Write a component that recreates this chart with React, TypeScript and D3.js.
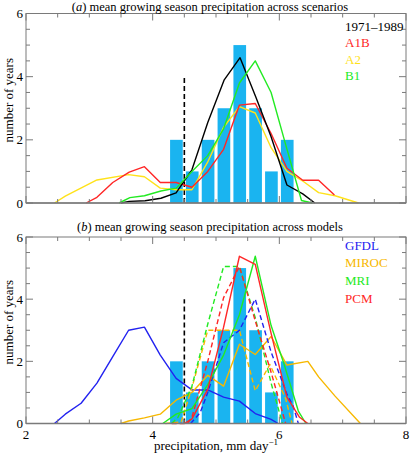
import React from "react";
import * as d3 from "d3";

// ---------- data ----------
const binCenters = [4.375, 4.625, 4.875, 5.125, 5.375, 5.625, 5.875, 6.125];
const binCounts = [2, 1, 2, 3, 5, 3, 1, 2];
const barWidthUnits = 0.2;
const thresholdX = 4.5;
const thresholdTop = 4;

// panel (a) scenarios
const obs1971: [number, number][] = [
  [3.5, 0], [3.63, 0.05], [3.88, 0.07], [4.13, 0.15], [4.37, 0.32], [4.62, 1.05],
  [4.87, 2.55], [5.13, 3.9], [5.38, 4.6], [5.63, 3.35], [5.87, 2.1], [6.12, 0.57],
  [6.37, 0.29], [6.56, 0],
];
const a1b: [number, number][] = [
  [2.95, 0], [3.12, 0.18], [3.37, 0.65], [3.63, 0.98], [3.87, 1.15], [4.12, 0.65],
  [4.37, 0.65], [4.62, 0.5], [4.87, 1.0], [5.12, 1.7], [5.37, 3.1], [5.62, 3.15],
  [5.87, 2.2], [6.12, 1.1], [6.37, 0.72], [6.62, 0.72], [6.87, 0.25],
];
const a2: [number, number][] = [
  [2.45, 0], [2.62, 0.22], [3.12, 0.73], [3.62, 0.9], [3.87, 0.83], [4.12, 0.47],
  [4.37, 0.42], [4.62, 0.42], [4.87, 1.3], [5.12, 2.4], [5.37, 3.05], [5.62, 2.85],
  [5.87, 1.75], [6.12, 1.0], [6.38, 0.68], [6.62, 0.33], [6.88, 0.23], [7.25, 0],
];
const b1: [number, number][] = [
  [3.47, 0], [3.64, 0.17], [3.87, 0.23], [4.13, 0.38], [4.37, 0.47], [4.62, 1.0],
  [4.87, 1.5], [5.12, 2.35], [5.37, 3.8], [5.62, 4.5], [5.87, 3.5], [6.1, 1.85],
  [6.35, 0.08], [6.52, 0],
];

// panel (b) models: solid and dashed
const gfdl: [number, number][] = [
  [2.45, 0], [2.62, 0.3], [2.87, 0.65], [3.12, 1.3], [3.37, 2.15], [3.62, 3.0],
  [3.87, 3.1], [4.12, 2.2], [4.37, 1.45], [4.62, 1.08], [4.87, 1.08], [5.12, 0.85],
  [5.37, 0.72], [5.62, 0.32], [5.87, 0.13], [5.98, 0],
];
const gfdlDashed: [number, number][] = [
  [4.6, 0], [4.75, 0.35], [4.87, 1.0], [5.12, 2.6], [5.37, 3.0], [5.62, 4.0],
  [5.87, 2.3], [6.12, 0.95], [6.22, 0.55], [6.3, 0],
];
const miroc: [number, number][] = [
  [3.5, 0], [3.62, 0.08], [3.87, 0.18], [4.12, 0.3], [4.37, 0.75], [4.62, 1.0],
  [4.87, 1.55], [5.12, 1.2], [5.37, 2.55], [5.62, 2.22], [5.87, 2.8], [6.12, 1.88],
  [6.45, 2.0], [6.62, 1.5], [6.88, 0.88], [7.28, 0],
];
const mirocDashed: [number, number][] = [
  [4.2, 0], [4.45, 0.05], [4.62, 1.15], [4.87, 3.0], [5.12, 3.0], [5.37, 3.0],
  [5.62, 1.05], [5.85, 1.9], [6.1, 0.8], [6.2, 0],
];
const mri: [number, number][] = [
  [4.16, 0], [4.37, 0.3], [4.62, 0.48], [4.87, 1.25], [5.12, 2.2], [5.37, 3.5],
  [5.62, 5.38], [5.87, 3.15], [6.07, 1.94], [6.3, 0.4], [6.42, 0],
];
const mriDashed: [number, number][] = [
  [4.3, 0], [4.4, 0.2], [4.62, 1.2], [4.87, 3.2], [5.12, 5.05], [5.37, 5.05],
  [5.62, 3.4], [5.87, 1.3], [6.05, 0],
];
const pcm: [number, number][] = [
  [4.5, 0], [4.62, 0.15], [4.87, 1.1], [5.12, 3.1], [5.37, 5.38], [5.62, 5.12],
  [5.87, 2.9], [6.12, 0.85], [6.32, 0.2], [6.45, 0],
];
const pcmDashed: [number, number][] = [
  [4.3, 0], [4.55, 0], [4.62, 0.2], [4.87, 2.0], [5.12, 4.05], [5.37, 5.05],
  [5.62, 3.3], [5.87, 1.65], [6.1, 0],
];

const xTickLabels = [2, 4, 6, 8];
const yTickLabels = [0, 2, 4, 6];
const legendA = ["1971\u20131989", "A1B", "A2", "B1"];
const legendB = ["GFDL", "MIROC", "MRI", "PCM"];

// ---------- styles ----------
const C = {
  bar: "#1ab4f0",
  black: "#000000",
  red: "#ff2626",
  yellow: "#ffe21a",
  green: "#22ea22",
  blue: "#2222f0",
  orange: "#f7b800",
  axis: "#7a7a7a",
};
const FONT = "'Liberation Serif', 'Times New Roman', serif";

const x = d3.scaleLinear().domain([2, 8]).range([26, 406]);

type Series = { data: [number, number][]; color: string; dashed?: boolean };

function Panel({
  top,
  bottom,
  title,
  letter,
  titleY,
  series,
  legend,
  legendColors,
  legendStartY,
  legendStep,
  showXLabels,
}: {
  top: number;
  bottom: number;
  title: string;
  letter: string;
  titleY: number;
  series: Series[];
  legend: string[];
  legendColors: string[];
  legendStartY: number;
  legendStep: number;
  showXLabels: boolean;
}) {
  const y = d3.scaleLinear().domain([0, 6]).range([bottom, top]);
  const line = d3
    .line<[number, number]>()
    .x((d) => x(d[0]))
    .y((d) => y(d[1]));
  const xMinor = d3.range(2, 8.001, 0.5);
  const yMinor = d3.range(0, 6.001, 0.5);
  const [x0, x1] = x.range();
  const bw = x(2 + barWidthUnits) - x(2);
  return (
    <g>
      {binCenters.map((c, i) => (
        <rect
          key={i}
          x={x(c) - bw / 2}
          y={y(binCounts[i])}
          width={bw}
          height={y(0) - y(binCounts[i])}
          fill={C.bar}
        />
      ))}
      <line
        x1={x(thresholdX)}
        x2={x(thresholdX)}
        y1={y(0)}
        y2={y(thresholdTop)}
        stroke="#000"
        strokeWidth={1.6}
        strokeDasharray="5,3"
      />
      {series.map((s, i) => (
        <path
          key={i}
          d={line(s.data) || ""}
          fill="none"
          stroke={s.color}
          strokeWidth={1.4}
          strokeDasharray={s.dashed ? "5,3" : undefined}
          strokeLinejoin="round"
        />
      ))}
      <rect x={x0} y={top} width={x1 - x0} height={bottom - top} fill="none" stroke={C.axis} strokeWidth={1} />
      <line x1={x0} x2={x1} y1={bottom} y2={bottom} stroke={C.axis} strokeWidth={1.6} />
      {xMinor.map((v, i) => {
        const major = Math.abs(v - Math.round(v / 2) * 2) < 1e-6;
        const L = major ? 7 : 4;
        return (
          <g key={"xt" + i} stroke={C.axis} strokeWidth={1}>
            <line x1={x(v)} x2={x(v)} y1={bottom} y2={bottom - L} />
            <line x1={x(v)} x2={x(v)} y1={top} y2={top + L} />
          </g>
        );
      })}
      {yMinor.map((v, i) => {
        const major = Math.abs(v - Math.round(v / 2) * 2) < 1e-6;
        const L = major ? 7 : 4;
        return (
          <g key={"yt" + i} stroke={C.axis} strokeWidth={1}>
            <line x1={x0} x2={x0 + L} y1={y(v)} y2={y(v)} />
            <line x1={x1} x2={x1 - L} y1={y(v)} y2={y(v)} />
          </g>
        );
      })}
      {yTickLabels.map((v) => (
        <text key={"yl" + v} x={x0 - 3} y={y(v) + 4.5} textAnchor="end" fontSize={13} fontFamily={FONT} fill="#000">
          {v}
        </text>
      ))}
      {showXLabels &&
        xTickLabels.map((v) => (
          <text key={"xl" + v} x={x(v)} y={bottom + 15.5} textAnchor="middle" fontSize={13} fontFamily={FONT} fill="#000">
            {v}
          </text>
        ))}
      <text
        transform={`translate(13,${(top + bottom) / 2 - 8}) rotate(-90)`}
        textAnchor="middle"
        fontSize={13}
        fontFamily={FONT}
        fill="#000"
      >
        number of years
      </text>
      <text x={(x0 + x1) / 2 - 6} y={titleY} textAnchor="middle" fontSize={12.5} fontFamily={FONT} fill="#000">
        (<tspan fontStyle="italic">{letter}</tspan>) {title}
      </text>
      {legend.map((t, i) => (
        <text
          key={"lg" + i}
          x={345}
          y={legendStartY + i * legendStep}
          fontSize={13}
          fontFamily={FONT}
          fill={legendColors[i]}
        >
          {t}
        </text>
      ))}
    </g>
  );
}

export default function App() {
  const seriesA: Series[] = [
    { data: a2, color: C.yellow },
    { data: a1b, color: C.red },
    { data: obs1971, color: C.black },
    { data: b1, color: C.green },
  ];
  const seriesB: Series[] = [
    { data: gfdl, color: C.blue },
    { data: miroc, color: C.orange },
    { data: mirocDashed, color: C.orange, dashed: true },
    { data: gfdlDashed, color: C.blue, dashed: true },
    { data: mriDashed, color: C.green, dashed: true },
    { data: pcmDashed, color: C.red, dashed: true },
    { data: mri, color: C.green },
    { data: pcm, color: C.red },
  ];
  return (
    <svg
      width={410}
      height={453}
      style={{ position: "absolute", left: 0, top: 0, background: "#fff" }}
    >
      <rect width={410} height={453} fill="#fff" />
      <Panel
        top={13.5}
        bottom={203}
        title="mean growing season precipitation across scenarios"
        letter="a"
        titleY={10.5}
        series={seriesA}
        legend={legendA}
        legendColors={[C.black, C.red, C.yellow, C.green]}
        legendStartY={30.5}
        legendStep={16.5}
        showXLabels={false}
      />
      <Panel
        top={237}
        bottom={423.5}
        title="mean growing season precipitation across models"
        letter="b"
        titleY={231}
        series={seriesB}
        legend={legendB}
        legendColors={[C.blue, C.orange, C.green, C.red]}
        legendStartY={249.5}
        legendStep={17.8}
        showXLabels={true}
      />
      <text x={216} y={450} textAnchor="middle" fontSize={13} fontFamily={FONT} fill="#000">
        precipitation, mm day
        <tspan fontSize={9} dy={-5}>
          {"\u22121"}
        </tspan>
      </text>
    </svg>
  );
}
